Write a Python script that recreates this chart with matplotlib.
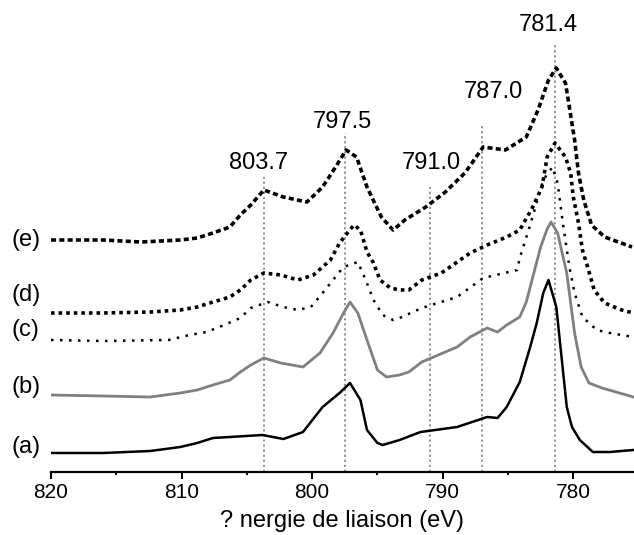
import matplotlib
matplotlib.use("Agg")
import matplotlib.pyplot as plt
from matplotlib.ticker import MultipleLocator

plt.rcParams['font.family'] = ['Liberation Sans', 'DejaVu Sans']

# Binding energy (eV) and stacked intensity (a.u., offset per spectrum)
energy_a = [820, 816, 812.4, 810.1, 808.8, 807.6, 806.3, 803.8, 802.2, 800.7, 799.2,
            797.9, 797.1, 796.3, 795.8, 795.0, 794.6, 793.3, 791.7, 788.9, 786.6, 785.8,
            785.1, 784.1, 783.3, 782.8, 782.3, 781.9, 781.3, 780.9, 780.5, 780.1, 779.5,
            778.5, 777.2, 775.4]
inten_a = [19, 19, 21, 25, 29, 34, 35, 37, 33, 40, 65,
           79, 89, 72, 42, 29, 27, 32, 40, 45, 55, 54,
           65, 90, 125, 149, 179, 192, 165, 115, 65, 45, 32,
           20, 20, 22]

energy_b = [820, 816, 812.4, 810.1, 808.8, 807.6, 806.3, 805.5, 804.7, 803.7, 802.4,
            800.7, 799.4, 798.4, 797.6, 797.1, 796.5, 795.8, 795.0, 794.3, 793.3, 792.6,
            791.6, 788.9, 787.9, 786.6, 785.8, 785.1, 784.1, 783.6, 783.0, 782.5, 782.0,
            781.7, 781.2, 780.5, 779.9, 779.4, 778.8, 777.8, 775.4]
inten_b = [77, 76, 75, 79, 82, 87, 92, 100, 107, 114, 109,
           105, 119, 139, 159, 170, 159, 132, 102, 95, 97, 100,
           110, 125, 135, 144, 140, 147, 155, 170, 200, 225, 243,
           250, 239, 199, 139, 105, 89, 84, 75]

energy_c = [820, 816, 811.0, 809.4, 808.1, 807.1, 805.5, 804.7, 803.4, 802.2, 801.1,
            800.1, 799.2, 798.4, 797.6, 796.5, 795.9, 795.3, 794.6, 793.8, 793.3, 791.6,
            788.9, 786.9, 784.3, 784.1, 783.3, 782.3, 781.6, 781.2, 780.8, 780.3, 779.9,
            779.3, 778.2, 777.2, 775.4]
inten_c = [132, 131, 132, 137, 140, 145, 154, 164, 170, 165, 162,
           165, 179, 192, 205, 210, 192, 172, 157, 152, 154, 164,
           175, 194, 202, 214, 247, 292, 305, 289, 249, 205, 179,
           155, 142, 139, 135]

energy_d = [820, 816, 812.4, 810.1, 808.8, 807.6, 806.3, 805.5, 804.7, 803.7, 802.4,
            801.1, 799.9, 798.6, 797.9, 797.3, 796.8, 796.3, 795.8, 795.3, 794.8, 794.0,
            793.3, 792.6, 791.6, 790.1, 787.9, 786.6, 785.1, 784.1, 783.1, 782.4, 782.0,
            781.4, 780.6, 780.2, 780.0, 779.6, 779.3, 778.9, 778.4, 777.6, 776.3, 775.4]
inten_d = [159, 159, 160, 162, 165, 170, 175, 182, 192, 199, 197,
           192, 197, 212, 229, 239, 247, 242, 220, 209, 192, 184,
           182, 182, 192, 199, 219, 227, 235, 242, 265, 285, 315,
           329, 315, 299, 275, 249, 222, 205, 182, 169, 162, 159]

energy_e = [820, 816, 813.1, 810.1, 808.8, 807.6, 806.3, 805.5, 804.7, 803.7, 802.2,
            800.4, 799.2, 798.2, 797.4, 796.6, 795.8, 794.7, 793.8, 792.9, 791.3, 789.8,
            788.3, 786.9, 785.2, 783.6, 782.7, 781.9, 781.3, 780.6, 780.3, 779.9, 779.6,
            779.2, 778.6, 777.6, 775.5]
inten_e = [232, 232, 230, 232, 234, 239, 245, 257, 267, 282, 275,
           270, 285, 305, 322, 315, 285, 255, 242, 252, 265, 280,
           299, 325, 322, 335, 362, 392, 404, 389, 365, 332, 299,
           272, 247, 235, 225]

curve_labels = ['(a)', '(b)', '(c)', '(d)', '(e)']
label_heights = [25, 85, 142, 177, 232]

# Reference binding energies marked by vertical guides
peak_energies = [803.7, 797.5, 791.0, 787.0, 781.4]
peak_texts = ['803.7', '797.5', '791.0', '787.0', '781.4']
guide_tops = [295, 339, 285, 347, 427]
text_heights = [309, 350, 309, 380, 447]
text_shifts = [0.4, 0.2, -0.1, -0.9, 0.5]

fig = plt.figure(figsize=(6.34, 5.35), dpi=100)
ax = fig.add_axes([51 / 634, 63 / 535, 583 / 634, 472 / 535])

for e, top in zip(peak_energies, guide_tops):
    ax.plot([e, e], [0, top], color='#8a8a8a', lw=1.3,
            linestyle=(0, (1.2, 1.6)), zorder=1)

ax.plot(energy_a, inten_a, color='black', lw=1.8, zorder=3)
ax.plot(energy_b, inten_b, color='#808080', lw=2.0, zorder=3)
ax.plot(energy_c, inten_c, color='black', lw=1.8, linestyle=(0, (1, 2.6)), zorder=3)
ax.plot(energy_d, inten_d, color='black', lw=2.6, linestyle=(0, (1, 1.1)), zorder=3)
ax.plot(energy_e, inten_e, color='black', lw=2.6, linestyle=(0, (1.4, 0.9)), zorder=3)

for txt, h in zip(curve_labels, label_heights):
    ax.text(-0.068, h, txt, transform=ax.get_yaxis_transform(), fontsize=17,
            ha='left', va='center')

for e, txt, h, s in zip(peak_energies, peak_texts, text_heights, text_shifts):
    ax.text(e + s, h, txt, fontsize=17, ha='center', va='center')

ax.set_xlim(820, 775.35)
ax.set_ylim(0, 472)
ax.xaxis.set_major_locator(MultipleLocator(10))
ax.xaxis.set_minor_locator(MultipleLocator(5))
ax.tick_params(axis='x', which='major', direction='out', length=5, width=1.5,
               labelsize=15, pad=3)
ax.tick_params(axis='x', which='minor', direction='out', length=2, width=1.5)
ax.set_yticks([])
for side in ['left', 'right', 'top']:
    ax.spines[side].set_visible(False)
ax.spines['bottom'].set_linewidth(1.6)
ax.set_xlabel('? nergie de liaison (eV)', fontsize=17, labelpad=6)

fig.savefig('out.png', dpi=100)
